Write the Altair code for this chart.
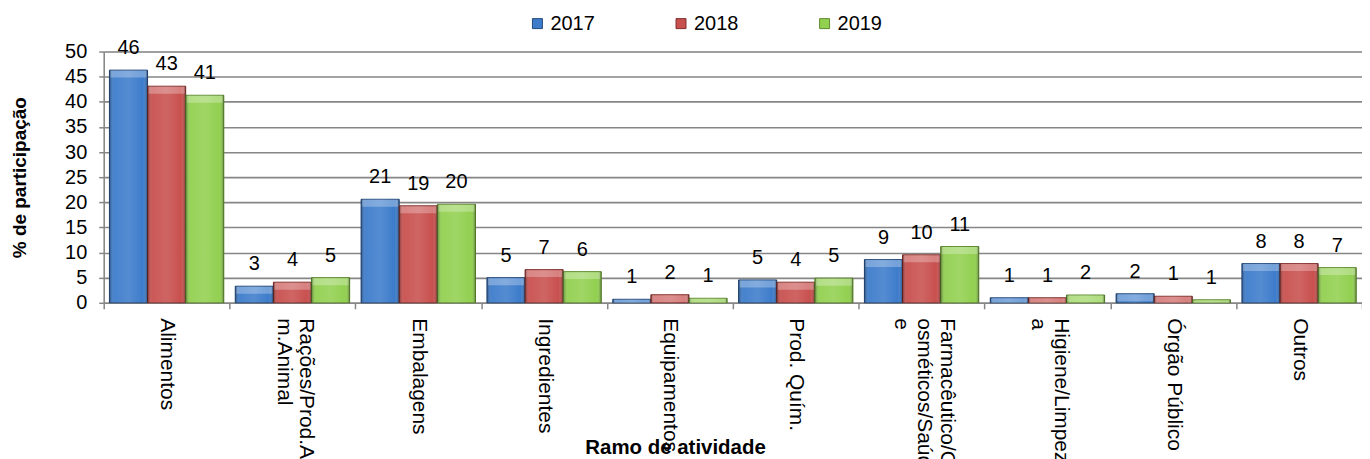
import altair as alt
import pandas as pd

categories = ["Alimentos", "Rações/Prod.Am.Animal", "Embalagens", "Ingredientes",
              "Equipamentos", "Prod. Quím.", "Farmacêutico/Cosméticos/Saúde",
              "Higiene/Limpeza", "Órgão Público", "Outros"]
label_lines = [["Alimentos"], ["Rações/Prod.A", "m.Animal"], ["Embalagens"], ["Ingredientes"],
               ["Equipamentos"], ["Prod. Quím."], ["Farmacêutico/C", "osméticos/Saúd", "e"],
               ["Higiene/Limpez", "a"], ["Órgão Público"], ["Outros"]]
years = ["2017", "2018", "2019"]
v2017 = [46.3, 3.3, 20.6, 5.0, 0.7, 4.55, 8.6, 1.0, 1.8, 7.8]
v2018 = [43.1, 4.1, 19.3, 6.6, 1.6, 4.1, 9.55, 1.0, 1.3, 7.8]
v2019 = [41.3, 5.0, 19.6, 6.2, 0.9, 4.9, 11.2, 1.55, 0.6, 7.0]
colors = ["#3D7CCB", "#C8504E", "#92D050"]
edges = ["#23497A", "#7E2E2C", "#5E8A2E"]

rows = []
for yr, vals in zip(years, [v2017, v2018, v2019]):
    for c, v in zip(categories, vals):
        rows.append({"category": c, "year": yr, "value": v})
df = pd.DataFrame(rows)

FONT = "Liberation Sans"
LINE_H = 23

def js_list(lines):
    return "[" + ",".join("'" + l + "'" for l in lines) + "]"

expr = ""
for c, lines in zip(categories, label_lines):
    expr += f"datum.value == '{c}' ? {js_list(lines)} : "
expr += "datum.label"

# shift multi-line labels so that the block of lines is centred on the band
offset_conditions = []
for c, lines in zip(categories, label_lines):
    if len(lines) > 1:
        offset_conditions.append({"test": f"datum.value == '{c}'",
                                  "value": (len(lines) - 1) * LINE_H / 2 + 2})

x = alt.X("category:N", sort=categories, scale=alt.Scale(paddingInner=0, paddingOuter=0),
          axis=alt.Axis(title="Ramo de atividade", labelAngle=90, labelFontSize=21,
                        labelFont=FONT, labelColor="#000", labelPadding=9,
                        labelBaseline="middle",
                        labelLimit=400, labelLineHeight=LINE_H, labelExpr=expr,
                        labelOffset={"condition": offset_conditions, "value": 0},
                        tickBand="extent", tickSize=6, tickColor="#868686", tickWidth=1.5,
                        domainColor="#868686", domainWidth=1.5, grid=False,
                        titleFont=FONT, titleFontSize=20.5, titleFontWeight="bold",
                        titleColor="#000", titleX=573, titleY=145, titleBaseline="middle",
                        titleAlign="center"))
xo = alt.XOffset("year:N", sort=years, scale=alt.Scale(paddingOuter=0.15, paddingInner=0))
y = alt.Y("value:Q", scale=alt.Scale(domain=[0, 50], nice=False),
          axis=alt.Axis(title="% de participação", values=list(range(0, 55, 5)),
                        labelFontSize=20, labelFont=FONT, labelColor="#000", labelPadding=12,
                        tickSize=5, tickColor="#868686", tickWidth=1.5,
                        domainColor="#868686", domainWidth=1.5,
                        gridColor="#868686", gridWidth=1.6,
                        titleFont=FONT, titleFontSize=19, titleFontWeight="bold",
                        titleColor="#000", titlePadding=35))

base = alt.Chart(df).encode(x=x, xOffset=xo, y=y)

bars = base.mark_bar(strokeWidth=1).encode(
    color=alt.Color("year:N", sort=years, scale=alt.Scale(domain=years, range=colors),
                    legend=alt.Legend(orient="none", legendX=425, legendY=-38,
                                      direction="horizontal", title=None,
                                      symbolType="square", symbolSize=100,
                                      symbolStrokeWidth=1, symbolOpacity=1,
                                      labelFontSize=20, labelFont=FONT, labelColor="#000",
                                      columnPadding=76, labelOffset=3)),
    stroke=alt.Stroke("year:N", sort=years, scale=alt.Scale(domain=years, range=edges),
                      legend=None),
)

shade = base.mark_bar(fill=alt.Gradient(
    gradient="linear", x1=0, x2=1, y1=0, y2=0,
    stops=[alt.GradientStop(offset=0, color="rgba(0,0,0,0.35)"),
           alt.GradientStop(offset=0.12, color="rgba(255,255,255,0.05)"),
           alt.GradientStop(offset=0.5, color="rgba(255,255,255,0.12)"),
           alt.GradientStop(offset=0.88, color="rgba(255,255,255,0.0)"),
           alt.GradientStop(offset=1, color="rgba(0,0,0,0.35)")]))

cap = base.mark_tick(thickness=7, size=36, yOffset=4, clip=True,
                     color="white", opacity=0.28)

text = base.mark_text(dy=-22, baseline="middle", fontSize=20, font=FONT, color="#000").encode(
    text=alt.Text("value:Q", format=".0f"))

chart = alt.layer(bars, shade, cap, text).properties(
    width=1262, height=252,
    autosize=alt.AutoSizeParams(type="none"),
    padding={"left": 96, "top": 43, "right": 0, "bottom": 156},
).configure_view(stroke=None).configure(background="white")

chart.save("out.html", embed_options={"renderer": "svg", "actions": False})
